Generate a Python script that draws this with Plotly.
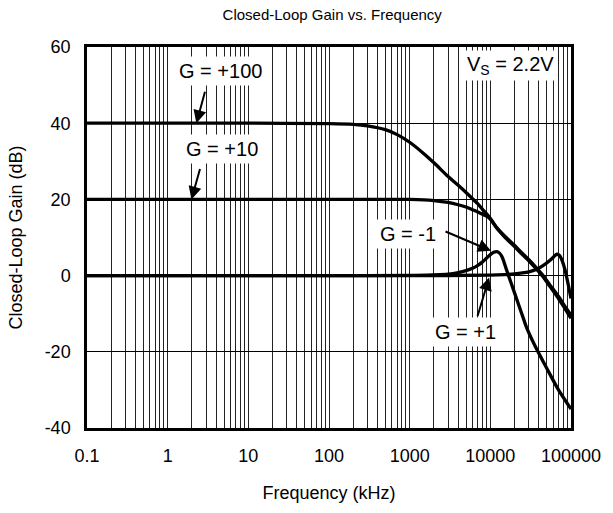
import numpy as np
import plotly.graph_objects as go

# Closed-loop gain curves (frequency in kHz, gain in dB)
freq_g100 = [0.1, 1, 10, 100, 200, 300, 500, 700, 1000, 1500, 2000, 3000, 4000, 5000,
             6000, 7000, 8000, 9000, 10000, 12000, 15000, 20000, 25000, 30000, 37000,
             45000, 55000, 70000, 85000, 100000]
gain_g100 = [40, 40, 40, 39.9, 39.7, 39.3, 38.3, 37.0, 35.0, 32.0, 29.6, 26.0, 23.7, 21.8,
             20.2, 18.8, 17.4, 16.2, 15.0, 12.6, 10.4, 7.9, 5.8, 4.2, 2.1,
             0.0, -2.5, -5.5, -8.2, -10.4]

freq_g10 = [0.1, 1, 10, 100, 1000, 1500, 2000, 3000, 4000, 5000, 6000, 7000, 8000, 9000,
            10000, 12000, 15000, 20000, 25000, 30000, 37000, 45000, 55000, 70000, 85000, 100000]
gain_g10 = [20, 20, 20, 20, 20, 19.9, 19.7, 19.2, 18.6, 18.0, 17.3, 16.7, 16.1, 15.6,
            14.8, 12.5, 10.2, 7.6, 5.5, 3.9, 1.8, -0.3, -2.9, -6.0, -8.8, -11.2]

freq_gm1 = [0.1, 1, 10, 100, 1000, 2000, 3000, 4000, 5000, 6000, 7000, 8000, 9000, 10000,
            11000, 12000, 13000, 14000, 16000, 18000, 20000, 25000, 28000, 35000, 50000,
            70000, 100000]
gain_gm1 = [0, 0, 0, 0, 0.05, 0.2, 0.4, 0.8, 1.3, 1.9, 2.7, 3.6, 4.6, 5.5,
            6.1, 6.3, 5.9, 4.9, 1.3, -1.8, -4.6, -10.5, -13.5, -18.0, -24.3,
            -30.0, -35.0]

freq_gp1 = [0.1, 1, 10, 100, 1000, 10000, 15000, 20000, 25000, 30000, 37000, 45000, 55000,
            62000, 67000, 72000, 78000, 85000, 90000, 95000, 100000]
gain_gp1 = [0, 0, 0, 0, 0, 0.1, 0.25, 0.45, 0.7, 1.0, 1.6, 2.6, 4.0,
            5.1, 5.6, 5.3, 3.8, 1.2, -1.2, -3.6, -6.0]

# Axis ticks: labelled decades plus unlabelled 2..9 grid lines
decades = [0.1, 1, 10, 100, 1000, 10000, 100000]
decade_labels = ["0.1", "1", "10", "100", "1000", "10000", "100000"]
y_ticks = [-40, -20, 0, 20, 40, 60]
y_labels = ["-40", "-20", "0", "20", "40", "60"]

x_tickvals = []
x_ticktext = []
for d, lab in zip(decades, decade_labels):
    x_tickvals.append(d)
    x_ticktext.append(lab)
    if d < 100000:
        for m in range(2, 10):
            x_tickvals.append(d * m)
            x_ticktext.append("")

FONT = "Liberation Sans, Arial, sans-serif"

fig = go.Figure()
for fx, gy, name in [(freq_g100, gain_g100, "G = +100"),
                     (freq_g10, gain_g10, "G = +10"),
                     (freq_gm1, gain_gm1, "G = -1"),
                     (freq_gp1, gain_gp1, "G = +1")]:
    fig.add_trace(go.Scatter(x=fx, y=gy, mode="lines", name=name,
                             line=dict(color="black", width=3.3, shape="spline", smoothing=0.8),
                             showlegend=False))

lx = np.log10

# Curve labels (text boxes) and their pointer arrows
labels = [
    ("G = +100", lx(4.5), 53.6),
    ("G = +10", lx(4.72), 33.3),
    ("G = -1", lx(955), 10.9),
    ("G = +1", lx(4900), -14.8),
]
for text, x, y in labels:
    fig.add_annotation(x=x, y=y, xref="x", yref="y", text=text, showarrow=False,
                       bgcolor="white", borderpad=3,
                       font=dict(family=FONT, size=20, color="black"))

arrows = [
    (lx(2.27), 40, 9, -33),
    (lx(1.97), 20, 9, -32),
    (lx(10200), 6.5, -47, -20),
    (lx(9660), -0.5, -12, 40),
]
for x, y, ax, ay in arrows:
    fig.add_annotation(x=x, y=y, xref="x", yref="y", text="", showarrow=True,
                       ax=ax, ay=ay, arrowhead=2, arrowsize=1.3, arrowwidth=2,
                       arrowcolor="black")

fig.add_annotation(x=lx(17800), y=55.2, xref="x", yref="y",
                   text="V<sub>S</sub> = 2.2V", showarrow=False, bgcolor="white",
                   borderpad=2, font=dict(family=FONT, size=20, color="black"))

fig.update_layout(
    width=613, height=513,
    margin=dict(l=87, r=35, t=47, b=82),
    paper_bgcolor="white", plot_bgcolor="white",
    title=dict(text="Closed-Loop Gain vs. Frequency", x=0.542, xanchor="center",
               y=0.972, yanchor="middle", font=dict(family=FONT, size=15, color="black")),
    font=dict(family=FONT, color="black"),
)
fig.update_xaxes(type="log", range=[-1, 5], tickmode="array",
                 tickvals=x_tickvals, ticktext=x_ticktext,
                 showgrid=True, gridcolor="#222", gridwidth=1,
                 showline=True, mirror=True, linecolor="black", linewidth=2.5,
                 ticks="", ticklabelstandoff=10,
                 tickfont=dict(family=FONT, size=18, color="black"),
                 title=dict(text="Frequency (kHz)", font=dict(family=FONT, size=18, color="black"),
                            standoff=22),
                 zeroline=False)
fig.update_yaxes(range=[-40, 60], tickmode="array", tickvals=y_ticks, ticktext=y_labels,
                 showgrid=True, gridcolor="black", gridwidth=1,
                 showline=True, mirror=True, linecolor="black", linewidth=2.5,
                 ticks="", ticklabelstandoff=10,
                 tickfont=dict(family=FONT, size=18, color="black"),
                 title=dict(text="Closed-Loop Gain (dB)", font=dict(family=FONT, size=18, color="black"),
                            standoff=18),
                 zeroline=False)

fig.write_html("out.html")
